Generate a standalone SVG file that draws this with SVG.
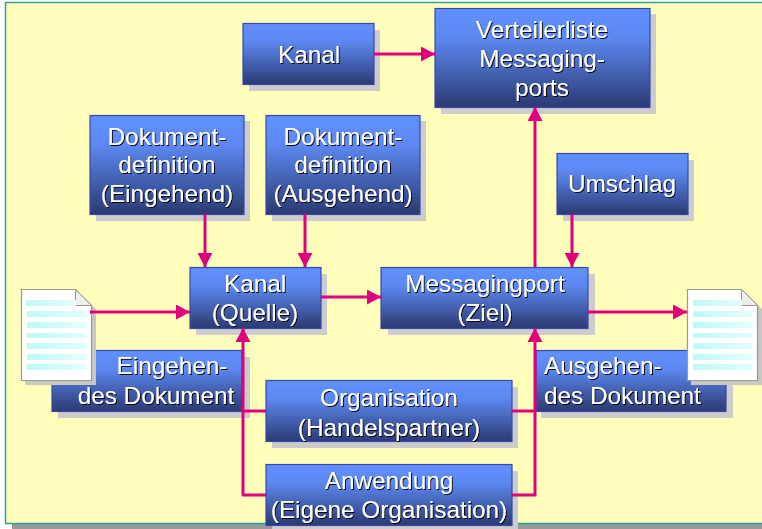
<svg xmlns="http://www.w3.org/2000/svg" width="762" height="529" viewBox="0 0 762 529">
<style>
.box{fill:url(#g);stroke:#3a47a8;stroke-width:1.2}
.sh{fill:#cccccc}
text{font-family:"Liberation Sans",Arial,sans-serif;font-size:24.3px;fill:#fff;text-anchor:middle;filter:url(#ts)}
.l{text-anchor:start}
.c{fill:none;stroke:#e0007c;stroke-width:3;stroke-linejoin:round}
.a{marker-end:url(#ah)}
.ln{fill:url(#lg)}
.pg{fill:#fff;stroke:#999;stroke-width:1.2}
.pgsh{fill:#c8c8c0}
.fold{fill:#eeeeee;stroke:#999;stroke-width:1}
</style>
<defs>
<linearGradient id="g" x1="0" y1="0" x2="0" y2="1"><stop offset="0" stop-color="#6190ff"/><stop offset="0.3" stop-color="#5c88f0"/><stop offset="1" stop-color="#2b3a72"/></linearGradient>
<linearGradient id="lg" x1="0" y1="0" x2="1" y2="0"><stop offset="0" stop-color="#bcfaf6"/><stop offset="1" stop-color="#e4fefc"/></linearGradient>
<filter id="ts" x="-5%" y="-10%" width="110%" height="120%"><feDropShadow dx="1" dy="1" stdDeviation="0.4" flood-color="#000" flood-opacity="0.95"/></filter>
<marker id="ah" markerUnits="userSpaceOnUse" markerWidth="15" markerHeight="15" refX="14" refY="7.500" orient="auto"><path d="M0 0L14 7.500L0 15Z" fill="#e0007c"/></marker>
</defs>
<rect width="762" height="529" fill="#fff"/>
<rect x="12" y="9" width="750" height="520" fill="#999"/>
<rect x="5.500" y="2.500" width="760" height="521" fill="#ffffbb" stroke="#2f9f9f" stroke-width="1.500"/>

<g id="eingehend-label"><rect class="sh" x="58" y="357" width="192" height="61"/><rect class="box" x="52" y="350.500" width="190" height="61"/><text x="172" y="374">Eingehen-</text><text x="156" y="404">des Dokument</text></g>
<g id="ausgehend-label"><rect class="sh" x="541" y="357" width="192" height="61"/><rect class="box" x="536" y="350.500" width="190" height="61"/><text class="l" x="544" y="374">Ausgehen-</text><text class="l" x="544" y="404">des Dokument</text></g>

<g id="kanal"><rect class="sh" x="249" y="30" width="131" height="61"/><rect class="box" x="243" y="23.500" width="131" height="61"/><text x="309" y="63">Kanal</text></g>
<g id="verteilerliste"><rect class="sh" x="441" y="14" width="215" height="100"/><rect class="box" x="435" y="8.500" width="215" height="99"/><text x="542" y="38">Verteilerliste</text><text x="542" y="67">Messaging-</text><text x="542" y="96">ports</text></g>
<g id="dokdef-ein"><rect class="sh" x="96" y="121" width="154" height="100"/><rect class="box" x="90" y="115.500" width="154" height="99"/><text x="167" y="145">Dokument-</text><text x="167" y="173">definition</text><text x="167" y="202">(Eingehend)</text></g>
<g id="dokdef-aus"><rect class="sh" x="272" y="121" width="154" height="100"/><rect class="box" x="266" y="115.500" width="154" height="99"/><text x="343" y="145">Dokument-</text><text x="343" y="173">definition</text><text x="343" y="202">(Ausgehend)</text></g>
<g id="umschlag"><rect class="sh" x="563" y="160" width="131" height="61"/><rect class="box" x="557" y="153.500" width="131" height="61"/><text x="622" y="192">Umschlag</text></g>
<g id="kanal-quelle"><rect class="sh" x="196" y="274" width="131" height="61"/><rect class="box" x="190" y="267.500" width="131" height="61"/><text x="255" y="292">Kanal</text><text x="255" y="321">(Quelle)</text></g>
<g id="messagingport"><rect class="sh" x="388" y="274" width="207" height="61"/><rect class="box" x="381" y="267.500" width="207" height="61"/><text x="485" y="292">Messagingport</text><text x="485" y="321">(Ziel)</text></g>
<g id="organisation"><rect class="sh" x="272" y="387" width="246" height="61"/><rect class="box" x="266" y="380.500" width="246" height="61"/><text x="389" y="406">Organisation</text><text x="389" y="436">(Handelspartner)</text></g>
<g id="anwendung"><rect class="sh" x="272" y="471" width="246" height="58"/><rect class="box" x="266" y="464.500" width="246" height="61"/><text x="389" y="489">Anwendung</text><text x="389" y="518">(Eigene Organisation)</text></g>

<g id="doc-ein">
<path class="pgsh" d="M25 385V293H79L96 309V385Z"/>
<path class="pg" d="M21.500 289.500H75.500L91.500 305.500V380.500H21.500Z"/>
<path class="fold" d="M75.500 289.500L91.500 305.500H75.500Z"/>
<rect class="ln" x="26" y="300" width="50" height="6"/><rect class="ln" x="27" y="311" width="60" height="6"/><rect class="ln" x="27" y="322" width="60" height="6"/><rect class="ln" x="27" y="333" width="60" height="5"/><rect class="ln" x="27" y="343" width="60" height="6"/><rect class="ln" x="27" y="354" width="60" height="6"/><rect class="ln" x="27" y="364" width="60" height="6"/>
</g>
<g id="doc-aus">
<path class="pgsh" d="M691 385V293H745L762 309V385Z"/>
<path class="pg" d="M687.500 289.500H741.500L757.500 305.500V380.500H687.500Z"/>
<path class="fold" d="M741.500 289.500L757.500 305.500H741.500Z"/>
<rect class="ln" x="693" y="300" width="49" height="6"/><rect class="ln" x="693" y="311" width="60" height="6"/><rect class="ln" x="693" y="322" width="60" height="6"/><rect class="ln" x="693" y="333" width="60" height="5"/><rect class="ln" x="693" y="343" width="60" height="6"/><rect class="ln" x="693" y="354" width="60" height="6"/><rect class="ln" x="693" y="364" width="60" height="6"/>
</g>

<g id="connectors">
<path class="c a" d="M374 54H435"/>
<path class="c a" d="M535 267V107"/>
<path class="c a" d="M205 214V267"/>
<path class="c a" d="M305 214V267"/>
<path class="c a" d="M572 214V267"/>
<path class="c a" d="M90 312H190"/>
<path class="c a" d="M321 297H381"/>
<path class="c a" d="M588 312H687"/>
<path class="c" d="M266 411H243"/>
<path class="c a" d="M266 495H243V328"/>
<path class="c" d="M512 411H535"/>
<path class="c a" d="M512 495H535V328"/>
</g>
</svg>
